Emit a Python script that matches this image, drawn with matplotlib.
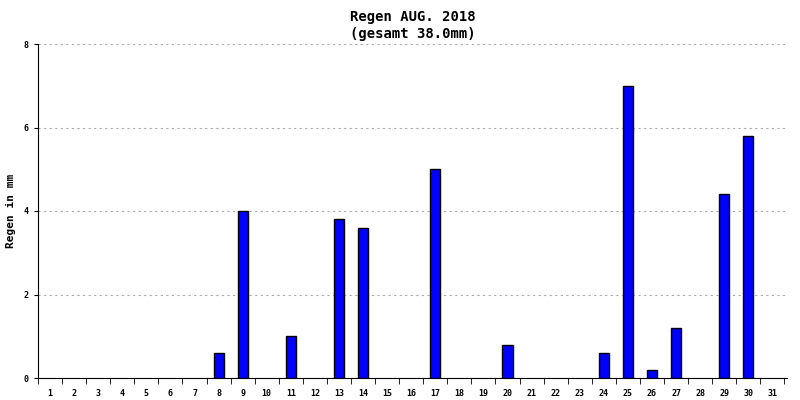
import matplotlib
matplotlib.use("Agg")
import matplotlib.pyplot as plt
import numpy as np

days = list(range(1, 32))
rain = [0, 0, 0, 0, 0, 0, 0, 0.6, 4.0, 0, 1.0, 0, 3.8, 3.6, 0, 0, 5.0, 0, 0, 0.8,
        0, 0, 0, 0.6, 7.0, 0.2, 1.2, 0, 4.4, 5.8, 0]
title = "Regen AUG. 2018\n(gesamt %.1fmm)" % sum(rain)

plt.rcParams["font.family"] = "DejaVu Sans Mono"
plt.rcParams["font.weight"] = "bold"
plt.rcParams["axes.titleweight"] = "bold"
plt.rcParams["axes.labelweight"] = "bold"

fig = plt.figure(figsize=(8, 4), dpi=100)
ax = fig.add_axes([0.0475, 0.055, 0.936, 0.835])

# zero days draw nothing in the reference
wet = [(d, r) for d, r in zip(days, rain) if r > 0]
ax.bar([d for d, _ in wet], [r for _, r in wet], width=0.42, color="#0000ff",
       edgecolor="black", linewidth=1, zorder=3)

ax.set_xlim(0.5, 31.6)
ax.set_ylim(0, 8)
ax.set_yticks([0, 2, 4, 6, 8])
ax.tick_params(axis="y", labelsize=6, length=3)
ax.set_xticks(days)
ax.set_xticklabels([str(d) for d in days], fontsize=6)
ax.tick_params(axis="x", length=0, pad=8)
ax.set_xticks(np.arange(0.5, 32, 1), minor=True)
ax.tick_params(axis="x", which="minor", length=4, direction="out")
ax.grid(axis="y", linestyle=(0, (2, 3)), color="#aaaaaa", linewidth=0.8, zorder=0)
for s in ["top", "right"]:
    ax.spines[s].set_visible(False)
ax.set_ylabel("Regen in mm", fontsize=8, labelpad=6)
ax.set_title(title, fontsize=10, pad=4, linespacing=1.3)

fig.savefig("out.png")
